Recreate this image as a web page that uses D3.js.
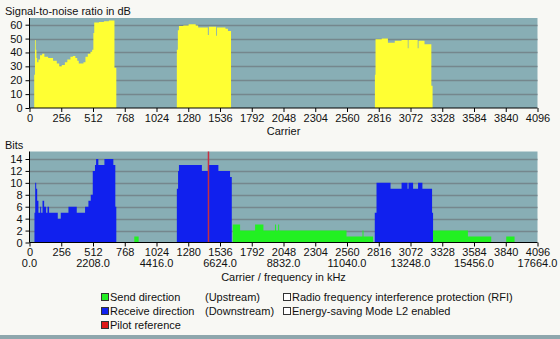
<!DOCTYPE html>
<html>
<head>
<meta charset="utf-8">
<script src="https://cdn.jsdelivr.net/npm/d3@7"></script>
<style>
  html, body { margin: 0; padding: 0; background: #f8f8f4; }
  svg { display: block; }
  text { font-family: "Liberation Sans", Arial, sans-serif; font-size: 11px; fill: #111; }
</style>
</head>
<body>
<svg id="chart" width="560" height="339"></svg>
<script>
// Signal-to-noise ratio per carrier: each segment starts at snrCarrier[i] and runs to the next start (0 dB = unused)
const snrCarrier = [0, 38, 44, 50, 56, 62, 72, 85, 102, 120, 150, 190, 220, 240, 260, 285, 305, 330, 350, 370, 385, 397, 415, 435, 451, 470, 491, 505, 515, 522, 560, 600, 640, 685, 700,
  1188, 1196, 1205, 1240, 1283, 1340, 1360, 1438, 1446, 1505, 1512, 1580, 1600, 1625,
  2785, 2790, 2840, 2890, 2945, 3000, 3050, 3056, 3130, 3137, 3185, 3240, 3250, 4096];
const snrDb = [0, 24, 49, 42, 36, 33, 35, 38, 39, 37, 36, 34, 32, 30, 31, 33, 35, 37, 37.5, 36, 34, 32, 32, 33, 37, 39, 40.6, 42, 54, 61.5, 62, 62.5, 63, 29, 0,
  42, 56, 59, 59.5, 60.4, 59.5, 58, 52.5, 58.5, 52, 58, 57, 55.5, 0,
  24, 49.5, 50, 47, 48.5, 49, 43, 49, 43, 48.5, 46, 16, 0, 0];

// Downstream bit loading (receive direction)
const downCarrier = [0, 40, 46, 54, 62, 72, 86, 94, 105, 118, 134, 145, 158, 228, 252, 314, 381, 448, 475, 494, 510, 528, 537, 555, 604, 676, 692, 700,
  1188, 1198, 1205, 1390, 1443, 1523, 1617, 1631,
  2784, 2798, 2911, 3000, 3048, 3056, 3093, 3133, 3168, 3246, 3254, 4096];
const downBits = [0, 5, 10, 9, 7, 5, 6, 5, 7, 6, 5, 6, 5, 4, 5, 6, 5, 6, 7, 8, 12, 13, 14, 13, 14, 13, 6, 0,
  9, 12, 13, 12, 13, 12, 11, 0,
  5, 10, 9, 10, 9, 10, 9, 10, 9, 5, 0, 0];

// Upstream bit loading (send direction)
const upCarrier = [0, 845, 880, 1639, 1698, 1819, 1886, 1980, 1988, 2005, 2013, 2556, 2685, 2693, 2770, 3254, 3535, 3723, 3844, 3911, 4096];
const upBits = [0, 1, 0, 3, 2, 3, 2, 3, 2, 3, 2, 1, 2, 1, 0, 2, 1, 0, 1, 0, 0];

// Pilot tone carrier
const pilotCarrier = [1443];

// Axis ticks
const carrierTicks = d3.range(0, 4097, 256);
const freqTicks = [0, 512, 1024, 1536, 2048, 2560, 3072, 3584, 4096];
const freqLabels = ["0.0", "2208.0", "4416.0", "6624.0", "8832.0", "11040.0", "13248.0", "15456.0", "17664.0"];
const snrTicks = [0, 10, 20, 30, 40, 50, 60];
const bitTicks = [0, 2, 4, 6, 8, 10, 12, 14];

const legendRows = [
  { color: "#22ee22", label: "Send direction", dir: "(Upstream)", extra: "Radio frequency interference protection (RFI)" },
  { color: "#1020ee", label: "Receive direction", dir: "(Downstream)", extra: "Energy-saving Mode L2 enabled" },
  { color: "#e01818", label: "Pilot reference", dir: "", extra: "" }
];

const colors = {
  plotBg: "#88aeb5",
  grid: "#75878d",
  snr: "#ffff33",
  down: "#1020ee",
  up: "#22f022",
  pilot: "#c83040"
};

const svg = d3.select("#chart");
const x = d3.scaleLinear().domain([0, 4096]).range([29.5, 537.5]);

function toSteps(cs, vs) {
  return cs.map((c, i) => ({ c, v: vs[i] }));
}

function drawPanel(cfg) {
  const g = svg.append("g");
  // plot background
  g.append("rect")
    .attr("x", x(0)).attr("y", cfg.top)
    .attr("width", x(4096) - x(0)).attr("height", cfg.y(0) - cfg.top)
    .attr("fill", colors.plotBg);
  // grid lines
  g.selectAll("line.grid").data(cfg.ticks.filter(t => t > 0)).join("line")
    .attr("x1", x(0)).attr("x2", x(4096))
    .attr("y1", d => Math.round(cfg.y(d)) + 0.5).attr("y2", d => Math.round(cfg.y(d)) + 0.5)
    .attr("stroke", colors.grid).attr("stroke-width", 1.5);
  // series
  cfg.series.forEach(s => {
    const area = d3.area()
      .x(d => x(d.c))
      .y0(cfg.y(0))
      .y1(d => cfg.y(d.v))
      .curve(d3.curveStepAfter);
    g.append("path").datum(toSteps(s.c, s.v)).attr("d", area).attr("fill", s.color);
  });
  if (cfg.after) cfg.after(g);
  // y axis
  const yAxis = d3.axisLeft(cfg.y).tickValues(cfg.ticks).tickFormat(d3.format("d")).tickSize(4).tickPadding(3);
  const ya = g.append("g").attr("transform", `translate(${x(0)},0)`).call(yAxis);
  ya.select(".domain").attr("d", `M0,${cfg.top}V${cfg.y(0)}`).attr("stroke", "#000");
  // x axis
  const xAxis = d3.axisBottom(x).tickValues(carrierTicks).tickFormat(d3.format("d")).tickSize(4).tickPadding(2);
  const xa = g.append("g").attr("transform", `translate(0,${cfg.y(0)})`).call(xAxis);
  xa.select(".domain").attr("d", `M${x(0)},0H${x(4096)}`).attr("stroke", "#000");
  g.selectAll(".tick text").attr("font-size", 11).attr("font-family", "Liberation Sans, Arial, sans-serif").attr("fill", "#111");
  g.selectAll(".tick line").attr("stroke", "#000");
  return g;
}

// Top panel: SNR
const ySnr = d3.scaleLinear().domain([0, 60]).range([108, 24.7]);
drawPanel({
  top: 18, y: ySnr, ticks: snrTicks,
  series: [{ c: snrCarrier, v: snrDb, color: colors.snr }]
});
svg.append("text").attr("x", 5).attr("y", 14.5).text("Signal-to-noise ratio in dB");
svg.append("text").attr("x", x(2048)).attr("y", 135).attr("text-anchor", "middle").text("Carrier");

// Bottom panel: bit loading
const yBits = d3.scaleLinear().domain([0, 14]).range([242.5, 159]);
drawPanel({
  top: 151.5, y: yBits, ticks: bitTicks,
  series: [
    { c: downCarrier, v: downBits, color: colors.down },
    { c: upCarrier, v: upBits, color: colors.up }
  ],
  after: g => {
    g.selectAll("line.pilot").data(pilotCarrier).join("line")
      .attr("x1", d => x(d)).attr("x2", d => x(d))
      .attr("y1", 151.5).attr("y2", yBits(0))
      .attr("stroke", colors.pilot).attr("stroke-width", 1.5);
  }
});
svg.append("text").attr("x", 5).attr("y", 148.5).text("Bits");
svg.selectAll("text.freq").data(freqTicks).join("text")
  .attr("x", d => x(d)).attr("y", 267).attr("text-anchor", "middle")
  .text((d, i) => freqLabels[i]);
svg.append("text").attr("x", x(2048)).attr("y", 281).attr("text-anchor", "middle").text("Carrier / frequency in kHz");

// Legend
const lg = svg.append("g");
legendRows.forEach((r, i) => {
  const yy = 297 + i * 14;
  lg.append("rect").attr("x", 101.5).attr("y", yy - 3.5).attr("width", 7).attr("height", 7)
    .attr("fill", r.color).attr("stroke", "#333").attr("stroke-width", 1);
  lg.append("text").attr("x", 110).attr("y", yy + 4).text(r.label);
  if (r.dir) lg.append("text").attr("x", 205).attr("y", yy + 4).text(r.dir);
  if (r.extra) {
    lg.append("rect").attr("x", 283.5).attr("y", yy - 3.5).attr("width", 7).attr("height", 7)
      .attr("fill", "#fff").attr("stroke", "#333").attr("stroke-width", 1);
    lg.append("text").attr("x", 292).attr("y", yy + 4).text(r.extra);
  }
});

// footer band
svg.append("rect").attr("x", 0).attr("y", 335).attr("width", 560).attr("height", 4).attr("fill", "#8fa7ad");
</script>
</body>
</html>
